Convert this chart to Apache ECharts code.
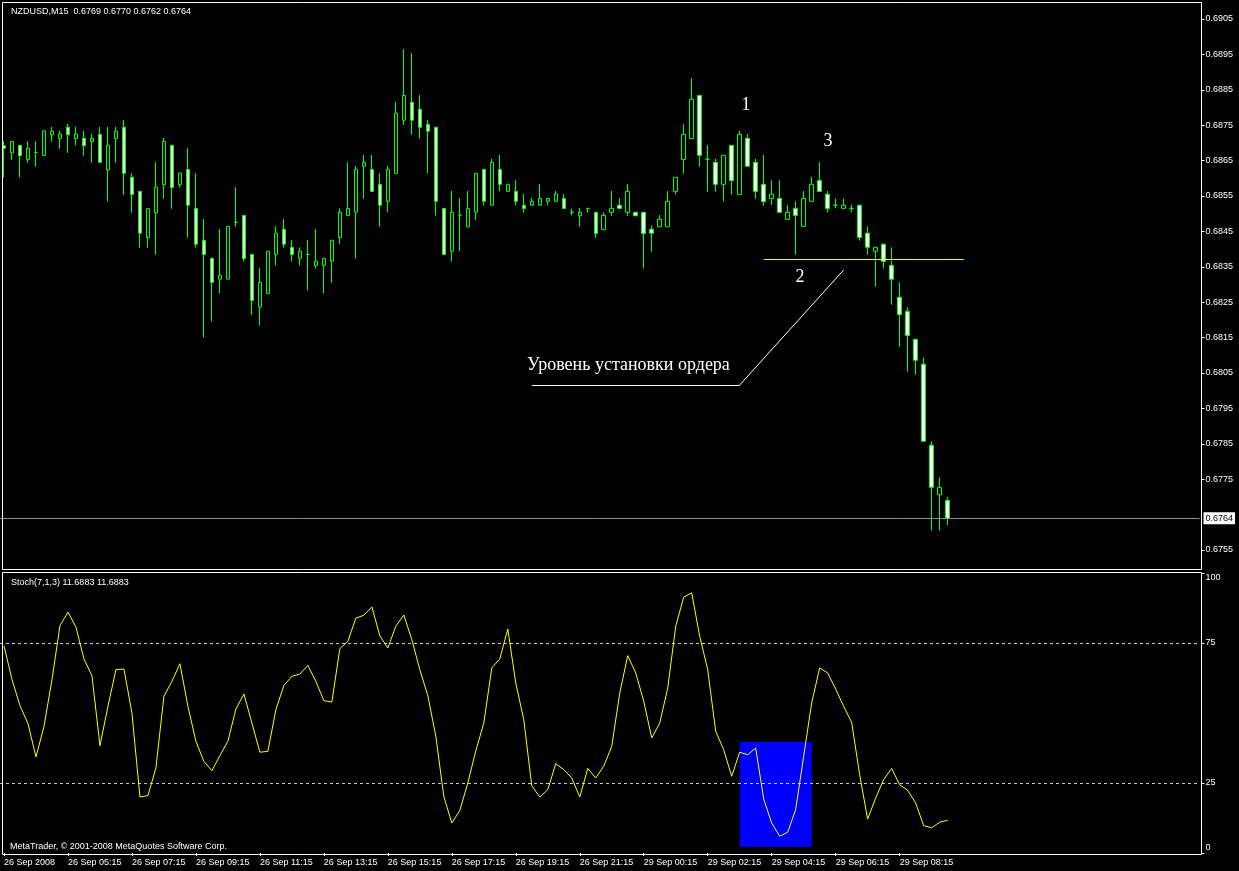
<!DOCTYPE html>
<html>
<head>
<meta charset="utf-8">
<script src="https://cdn.jsdelivr.net/npm/echarts@6/dist/echarts.min.js"></script>
<style>
html,body{margin:0;padding:0;background:#000;}
#chart{width:1239px;height:871px;}
</style>
</head>
<body>
<div id="chart"></div>
<script>
// ---- data (NZDUSD M15) ----
const dateLabels = ['26 Sep 2008','26 Sep 05:15','26 Sep 07:15','26 Sep 09:15','26 Sep 11:15','26 Sep 13:15','26 Sep 15:15','26 Sep 17:15','26 Sep 19:15','26 Sep 21:15','29 Sep 00:15','29 Sep 02:15','29 Sep 04:15','29 Sep 06:15','29 Sep 08:15'];
const priceTicks = [0.6755,0.6775,0.6785,0.6795,0.6805,0.6815,0.6825,0.6835,0.6845,0.6855,0.6865,0.6875,0.6885,0.6895,0.6905];
const stochTicks = [0,25,75,100];

const open = [
0.68692,0.68672,0.68693,0.68653,0.68673,0.68664,0.68723,0.68712,0.68744,0.68712,
0.68713,0.68704,0.68724,0.68624,0.68712,0.68744,0.68603,0.68563,0.68433,0.68503,
0.68582,0.68693,0.68582,0.68625,0.68515,0.68425,0.68374,0.68315,0.68315,0.68476,
0.68495,0.68385,0.68236,0.68275,0.68385,0.68456,0.68405,0.68374,0.68385,0.68354,
0.68354,0.68366,0.68433,0.68495,0.68504,0.68634,0.68625,0.68583,0.68535,0.68614,
0.68764,0.68815,0.68795,0.68752,0.68744,0.68515,0.68394,0.68496,0.68463,0.68504,
0.68625,0.68524,0.68625,0.68563,0.68563,0.68524,0.68524,0.68524,0.68535,0.68535,
0.68543,0.68504,0.68494,0.68515,0.68504,0.68455,0.68504,0.68524,0.68504,0.68504,
0.68504,0.68456,0.68463,0.68463,0.68563,0.68653,0.68712,0.68834,0.68654,0.68645,
0.68583,0.68693,0.68554,0.68713,0.68645,0.68583,0.68543,0.68543,0.68484,0.68515,
0.68464,0.68535,0.68594,0.68555,0.68524,0.68515,0.68515,0.68524,0.68445,0.68394,
0.68414,0.68354,0.68264,0.68224,0.68145,0.68075,0.67846,0.67706,0.6769];
const close = [
0.68685,0.68704,0.68664,0.68685,0.68673,0.68734,0.68733,0.68725,0.68723,0.68725,
0.68692,0.68713,0.68645,0.68693,0.68733,0.68614,0.68554,0.68445,0.68515,0.68575,
0.68704,0.68574,0.68615,0.68524,0.68414,0.68385,0.68306,0.68326,0.68464,0.68476,
0.68373,0.68255,0.68306,0.68394,0.68445,0.68414,0.68385,0.68394,0.68385,0.68366,
0.68374,0.68425,0.68504,0.68515,0.68625,0.68645,0.68563,0.68524,0.68625,0.68784,
0.68834,0.68764,0.68744,0.68733,0.68535,0.68385,0.68504,0.68496,0.68515,0.68614,
0.68535,0.68645,0.68583,0.68583,0.68535,0.68515,0.68535,0.68543,0.68543,0.68556,
0.68515,0.68504,0.68504,0.68515,0.68444,0.68495,0.68515,0.68515,0.68563,0.68494,
0.68444,0.68445,0.68484,0.68535,0.68603,0.68724,0.68823,0.68665,0.68654,0.68583,
0.68665,0.68594,0.68724,0.68634,0.68563,0.68534,0.68555,0.68504,0.68504,0.68495,
0.68543,0.68583,0.68563,0.68515,0.68524,0.68524,0.68515,0.68433,0.68405,0.68405,
0.68365,0.68315,0.68215,0.68156,0.68086,0.67857,0.67727,0.67727,0.6764];
const low = [
0.68602,0.68652,0.68602,0.68644,0.68633,0.68664,0.68703,0.68683,0.68672,0.68692,
0.68664,0.68644,0.68645,0.68534,0.68644,0.68553,0.68503,0.68404,0.68404,0.68384,
0.68542,0.68514,0.68574,0.68432,0.68404,0.68150,0.68195,0.68275,0.68315,0.68463,
0.68365,0.68214,0.68184,0.68275,0.68353,0.68404,0.68365,0.68353,0.68283,0.68345,
0.68275,0.68305,0.68414,0.68495,0.68373,0.68542,0.68563,0.68463,0.68504,0.68614,
0.68751,0.68723,0.68712,0.68614,0.68495,0.68385,0.68365,0.68394,0.68463,0.68482,
0.68524,0.68524,0.68563,0.68563,0.68524,0.68503,0.68524,0.68524,0.68524,0.68535,
0.68515,0.68495,0.68463,0.68503,0.68432,0.68455,0.68494,0.68515,0.68494,0.68494,
0.68345,0.68393,0.68463,0.68463,0.68554,0.68613,0.68712,0.68633,0.68562,0.68562,
0.68534,0.68554,0.68554,0.68634,0.68542,0.68523,0.68525,0.68504,0.68484,0.68384,
0.68464,0.68535,0.68563,0.68504,0.68515,0.68515,0.68504,0.68424,0.68384,0.68294,
0.68345,0.68243,0.68124,0.68054,0.68045,0.67857,0.67605,0.67605,0.6762];
const high = [
0.68705,0.68704,0.68693,0.68705,0.68705,0.68734,0.68745,0.68734,0.68753,0.68745,
0.68734,0.68725,0.68745,0.68745,0.68745,0.68765,0.68615,0.68563,0.68515,0.68646,
0.68714,0.68693,0.68615,0.68686,0.68615,0.68485,0.68374,0.68457,0.68464,0.68575,
0.68495,0.68385,0.68347,0.68394,0.68465,0.68485,0.68426,0.68405,0.68426,0.68457,
0.68374,0.68425,0.68515,0.68646,0.68635,0.68666,0.68666,0.68614,0.68635,0.68816,
0.68965,0.68954,0.68835,0.68765,0.68744,0.68515,0.68564,0.68544,0.68564,0.68614,
0.68625,0.68655,0.68666,0.68583,0.68595,0.68556,0.68544,0.68584,0.68543,0.68564,
0.68556,0.68515,0.68516,0.68515,0.68504,0.68504,0.68564,0.68544,0.68584,0.68504,
0.68504,0.68466,0.68496,0.68564,0.68603,0.68753,0.68883,0.68834,0.68694,0.68655,
0.68665,0.68693,0.68734,0.68725,0.68655,0.68666,0.68594,0.68594,0.68525,0.68535,
0.68564,0.68604,0.68646,0.68564,0.68543,0.68543,0.68525,0.68524,0.68464,0.68405,
0.68414,0.68405,0.68306,0.68236,0.68145,0.68094,0.67857,0.67755,0.6770];
const stoch = [
74,62,52.6,46.2,34.3,45.2,61.9,81.2,86,80.7,
69.3,63.3,38.3,52.4,65.5,65.7,50,20,20.5,30.4,
56,61.3,67.6,52.4,39.9,32.7,29.4,34.8,39.9,51.4,
56.8,46.4,36,36.3,51.2,59.8,63.1,63.9,67,61.3,
54.4,53.9,73,75.6,83.9,84.9,87.9,77.6,73.2,81,
85,76.2,65.5,56.2,41.7,20.2,10.7,15.2,25,36.5,
46.4,66.1,69.3,80,60.7,47.6,24,20,22.6,31.9,
29.8,26.8,20,30.2,26.8,31,38.1,57.1,70.5,64.3,
54.2,41.1,46.4,58.9,81,91.4,92.9,77.4,65.5,43.5,
36.9,27.4,36,35.1,37.5,19.3,10.7,6,7.4,15.5,
34.5,53.6,66.1,64.3,58.6,52.4,46.7,28,12.1,19.6,
26.2,30.2,24.4,22.4,17.9,9.8,9,11,11.6883];

const currentPrice = 0.6764;
const breakLevel = 0.68371;          // trend line under point 2
const orderLevel = [[66,0.68016],[92,0.68016],[105,0.68341]]; // "Уровень установки ордера" pointer
const blueZone = [[92,39.7],[101,2.2]];
const labelStep = 8;
const totalSlots = 150;

// ---- build ----
const cats = [];
for (let i = 0; i < totalSlots; i++) {
  const k = i / labelStep;
  cats.push(i % labelStep === 0 && k < dateLabels.length ? dateLabels[k] : String(i));
}
const isLabelIdx = (i) => i % labelStep === 0 && i / labelStep < dateLabels.length;
const candles = open.map((o, i) => [o, close[i], low[i], high[i]]);
const n = open.length - 1;
const fmt = (v) => v.toFixed(4);
const FONT = '"Liberation Sans", Arial, sans-serif';
const SERIF = '18px "Liberation Serif", "Times New Roman", serif';

const chart = echarts.init(document.getElementById('chart'), null, {renderer: 'canvas'});
chart.setOption({
  animation: false,
  backgroundColor: '#000000',
  title: [
    {text: 'NZDUSD,M15  ' + [open[n], high[n], low[n], close[n]].map(fmt).join(' '),
     left: 6, top: 2, textStyle: {color: '#ffffff', fontSize: 9, fontWeight: 'normal', fontFamily: FONT}},
    {text: 'Stoch(7,1,3) ' + stoch[n].toFixed(4) + ' ' + stoch[n].toFixed(4),
     left: 6, top: 573, textStyle: {color: '#ffffff', fontSize: 9, fontWeight: 'normal', fontFamily: FONT}},
    {text: 'MetaTrader, \u00A9 2001-2008 MetaQuotes Software Corp.',
     left: 5, top: 837, textStyle: {color: '#ffffff', fontSize: 9, fontWeight: 'normal', fontFamily: FONT}}
  ],
  grid: [
    {left: -0.5, width: 1200, top: 19, height: 531},
    {left: -0.5, width: 1200, top: 573, height: 280}
  ],
  xAxis: [
    {type: 'category', gridIndex: 0, data: cats, boundaryGap: true, show: false},
    {type: 'category', gridIndex: 1, data: cats, boundaryGap: true, offset: 2,
     axisLine: {show: false},
     axisTick: {show: true, alignWithLabel: true, length: 3, interval: (i) => isLabelIdx(i), lineStyle: {color: '#ffffff'}},
     axisLabel: {show: true, interval: (i) => isLabelIdx(i), color: '#ffffff', fontSize: 9, fontFamily: FONT,
                 align: 'left', margin: 3, formatter: (v, i) => isLabelIdx(i) ? v : ''},
     splitLine: {show: false}}
  ],
  yAxis: [
    {type: 'value', gridIndex: 0, position: 'right', min: 0.6755, max: 0.6905, interval: 0.001, offset: 2,
     axisLine: {show: false},
     axisTick: {show: true, length: 3, customValues: priceTicks, lineStyle: {color: '#ffffff'}},
     axisLabel: {show: true, customValues: priceTicks, color: '#ffffff', fontSize: 9, fontFamily: FONT, margin: 4, formatter: fmt},
     splitLine: {show: false}},
    {type: 'value', gridIndex: 1, position: 'right', min: 0, max: 100, interval: 25, offset: 2,
     axisLine: {show: false},
     axisTick: {show: true, length: 3, customValues: stochTicks, lineStyle: {color: '#ffffff'}},
     axisLabel: {show: true, customValues: stochTicks, color: '#ffffff', fontSize: 9, fontFamily: FONT, margin: 4,
       formatter: (v) => v === 100 ? '{top|100}' : (v === 0 ? '{bot|0}' : String(v)),
       rich: {top: {color: '#ffffff', fontSize: 9, fontFamily: FONT, padding: [10, 0, 0, 0]},
              bot: {color: '#ffffff', fontSize: 9, fontFamily: FONT, padding: [0, 0, 10, 0]}}},
     splitLine: {show: false}}
  ],
  series: [
    {type: 'candlestick', xAxisIndex: 0, yAxisIndex: 0, data: candles, barWidth: 4, clip: false, z: 3,
     itemStyle: {color: '#000000', color0: '#ffffff', borderColor: '#00ff00', borderColor0: '#00ff00', borderWidth: 1},
     markLine: {
       silent: true, symbol: ['none', 'none'], animation: false, precision: 5,
       data: [
         [{coord: [95, breakLevel], lineStyle: {color: '#ffff00', width: 1, type: 'solid'}, label: {show: false}},
          {coord: [120, breakLevel]}],
         [{coord: orderLevel[0], lineStyle: {color: '#ffffff', width: 1, type: 'solid'}, label: {show: false}},
          {coord: orderLevel[1]}],
         [{coord: orderLevel[1], lineStyle: {color: '#ffffff', width: 1, type: 'solid'}, label: {show: false}},
          {coord: orderLevel[2]}]
       ]
     }},
    {type: 'line', xAxisIndex: 0, yAxisIndex: 0, data: close, showSymbol: false, symbol: 'none', silent: true, z: 2,
     lineStyle: {opacity: 0, width: 0},
     markLine: {silent: true, symbol: ['none', 'none'], animation: false, precision: 5,
       data: [{yAxis: currentPrice, lineStyle: {color: '#8a8f99', width: 1, type: 'solid'},
          label: {show: true, position: 'end', distance: 4, formatter: fmt(currentPrice), color: '#000000',
                  backgroundColor: '#ffffff', padding: [2, 2, 1, 2], fontSize: 9, fontFamily: FONT}}]}},
    {type: 'line', xAxisIndex: 1, yAxisIndex: 1, data: stoch, showSymbol: false, symbol: 'none',
     lineStyle: {color: '#ffff00', width: 1}, z: 5,
     markArea: {silent: true, itemStyle: {color: '#0000ff', opacity: 1},
       data: [[{coord: blueZone[0]}, {coord: blueZone[1]}]]},
     markLine: {silent: true, symbol: ['none', 'none'], label: {show: false},
       lineStyle: {color: '#c8c8c8', width: 1, type: [3, 3]},
       data: [{yAxis: 75}, {yAxis: 25}]}}
  ],
  graphic: [
    {type: 'rect', z: 100, silent: true, shape: {x: 2.5, y: 2.5, width: 1199, height: 567},
     style: {fill: 'none', stroke: '#ffffff', lineWidth: 1}},
    {type: 'rect', z: 100, silent: true, shape: {x: 2.5, y: 572.5, width: 1199, height: 282},
     style: {fill: 'none', stroke: '#ffffff', lineWidth: 1}},
    {type: 'text', z: 100, silent: true, style: {x: 746, y: 105, text: '1', fill: '#ffffff',
      font: SERIF, textAlign: 'center', textVerticalAlign: 'middle'}},
    {type: 'text', z: 100, silent: true, style: {x: 828, y: 141, text: '3', fill: '#ffffff',
      font: SERIF, textAlign: 'center', textVerticalAlign: 'middle'}},
    {type: 'text', z: 100, silent: true, style: {x: 800, y: 277, text: '2', fill: '#ffffff',
      font: SERIF, textAlign: 'center', textVerticalAlign: 'middle'}},
    {type: 'text', z: 100, silent: true, style: {x: 527, y: 365, text: 'Уровень установки ордера', fill: '#ffffff',
      font: SERIF, textAlign: 'left', textVerticalAlign: 'middle'}}
  ]
});
</script>
</body>
</html>
